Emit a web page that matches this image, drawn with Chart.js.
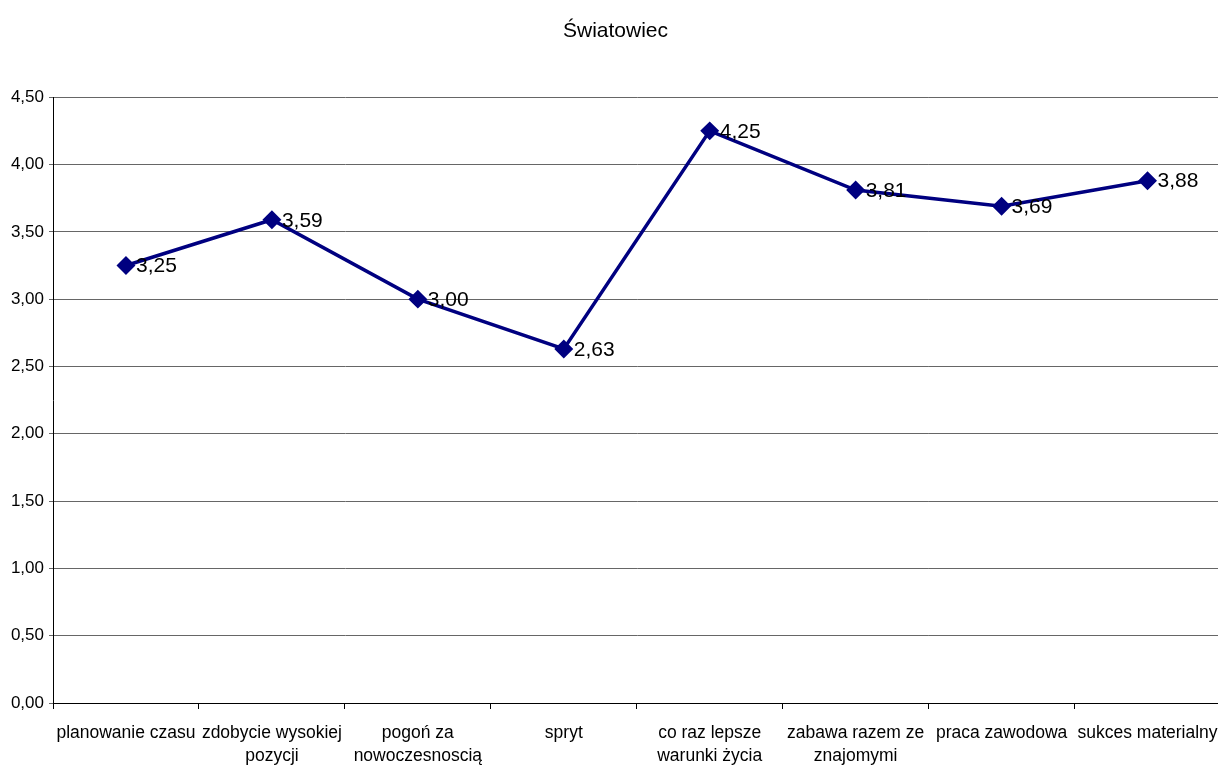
<!DOCTYPE html>
<html>
<head>
<meta charset="utf-8">
<script src="https://cdn.jsdelivr.net/npm/chart.js@4"></script>
<style>
  html, body { margin: 0; padding: 0; background: #fff; overflow: hidden; }
  #wrap { width: 1218px; height: 767px; overflow: hidden; }
</style>
</head>
<body>
<div id="wrap"><canvas id="chart" width="1231" height="767"></canvas></div>
<script>
const categories = [
  'planowanie czasu',
  ['zdobycie wysokiej', 'pozycji'],
  ['pogoń za', 'nowoczesnoscią'],
  'spryt',
  ['co raz lepsze', 'warunki życia'],
  ['zabawa razem ze', 'znajomymi'],
  'praca zawodowa',
  'sukces materialny'
];
const values = [3.25, 3.59, 3.00, 2.63, 4.25, 3.81, 3.69, 3.88];
const chartTitle = 'Światowiec';

const fmt = v => v.toFixed(2).replace('.', ',');

Chart.defaults.font.family = '"Liberation Sans", Arial, sans-serif';
Chart.defaults.color = '#000';

// value labels to the right of each point
const valueLabels = {
  id: 'valueLabels',
  afterDatasetsDraw(chart) {
    const c = chart.ctx;
    const meta = chart.getDatasetMeta(0);
    c.save();
    c.font = '21px "Liberation Sans", Arial, sans-serif';
    c.fillStyle = '#000';
    c.textAlign = 'left';
    c.textBaseline = 'middle';
    meta.data.forEach((pt, i) => {
      c.fillText(fmt(values[i]), pt.x + 10, pt.y + 1);
    });
    c.restore();
  }
};

const ctx = document.getElementById('chart').getContext('2d');

new Chart(ctx, {
  type: 'line',
  data: {
    labels: categories,
    datasets: [{
      data: values,
      borderColor: '#000080',
      backgroundColor: '#000080',
      borderWidth: 3.5,
      pointStyle: 'rectRot',
      pointRadius: 7,
      pointHoverRadius: 7,
      pointBackgroundColor: '#000080',
      pointBorderColor: '#000080',
      tension: 0,
      fill: false
    }]
  },
  options: {
    responsive: false,
    animation: false,
    layout: { padding: 0 },
    plugins: {
      legend: { display: false },
      tooltip: { enabled: false },
      title: {
        display: true,
        text: chartTitle,
        font: { size: 21, weight: 'normal' },
        color: '#000',
        padding: { top: 19, bottom: 53 }
      }
    },
    scales: {
      x: {
        offset: true,
        afterFit: s => { s.height = 64; },
        grid: {
          offset: true,
          drawOnChartArea: false,
          drawTicks: true,
          tickLength: 6,
          color: '#000'
        },
        border: { color: '#000', width: 1 },
        ticks: {
          autoSkip: false,
          maxRotation: 0,
          minRotation: 0,
          padding: 12,
          font: { size: 17.5, lineHeight: 1.35 },
          color: '#000'
        }
      },
      y: {
        min: 0,
        max: 4.5,
        afterFit: s => { s.width = 53; },
        grid: {
          color: '#666',
          tickLength: 4,
          drawTicks: true
        },
        border: { color: '#000', width: 1 },
        ticks: {
          stepSize: 0.5,
          padding: 5,
          font: { size: 17 },
          color: '#000',
          callback: v => fmt(v)
        }
      }
    }
  },
  plugins: [valueLabels]
});
</script>
</body>
</html>
